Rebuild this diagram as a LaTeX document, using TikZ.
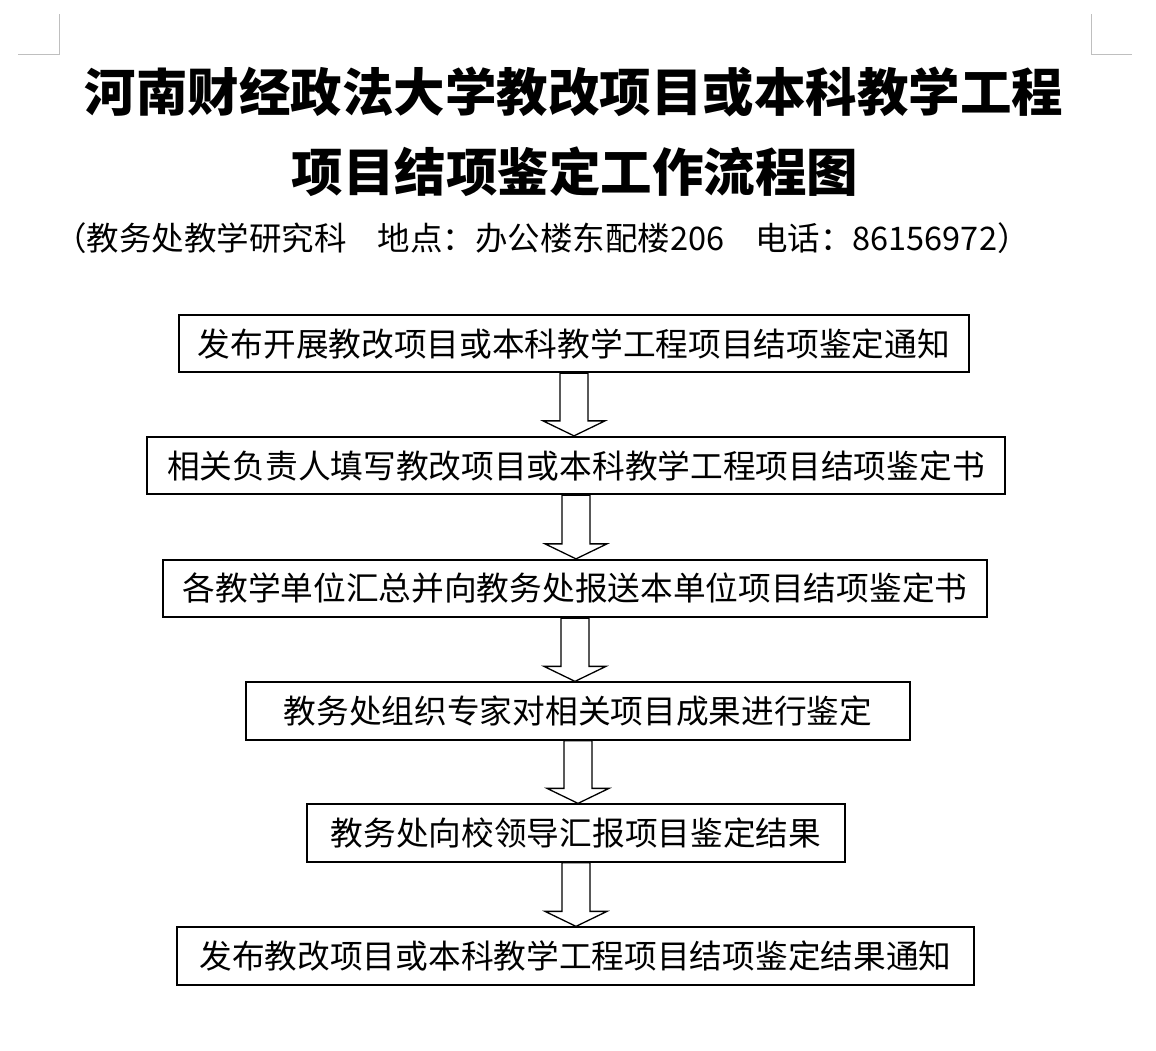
\documentclass[tikz,border=0pt]{standalone}
\usepackage{fontspec}
\newfontfamily\cjk{Noto Sans CJK SC}
\usetikzlibrary{calc}
\newcommand\blockarr[2]{%
  \draw[blockarrow] let \p1=(#1.south), \p2=(#2.north) in
    ({\x1-14pt},{\y1}) -- ({\x1+14pt},{\y1}) -- ({\x1+14pt},{\y2+15pt}) --
    ({\x1+31pt},{\y2+15pt}) -- ({\x1},{\y2}) -- ({\x1-31pt},{\y2+15pt}) --
    ({\x1-14pt},{\y2+15pt}) -- cycle;}
\begin{document}
\begin{tikzpicture}[x=1pt,y=-1pt,
  stepbox/.style={draw=black,line width=1.8pt,minimum height=57.5pt,inner sep=0pt,
    font=\cjk\fontsize{32.7}{36}\selectfont},
  titletext/.style={inner sep=0pt,font=\cjk\bfseries\fontsize{51.5}{60}\selectfont},
  subtext/.style={inner sep=0pt,font=\cjk\fontsize{32.5}{36}\selectfont},
  blockarrow/.style={draw=black,line width=1.3pt,fill=white,line join=miter},
  cornermark/.style={draw={rgb,255:red,191;green,191;blue,191},line width=1pt}]
\useasboundingbox (0,0) rectangle (1156,1050);
\draw[cornermark] (18,54) -- (59.5,54) -- (59.5,14);
\draw[cornermark] (1132,54) -- (1091,54) -- (1091,14);
\node[titletext] (t1) at (574,91.5) {河南财经政法大学教改项目或本科教学工程};
\node[titletext] (t2) at (575,171.5) {项目结项鉴定工作流程图};
\node[subtext] (sub) at (542,238) {（教务处教学研究科\hspace{0.95em}地点：办公楼东配楼206\hspace{0.95em}电话：86156972）};
\node[stepbox,minimum width=790pt] (b1) at (574,343.5) {发布开展教改项目或本科教学工程项目结项鉴定通知};
\node[stepbox,minimum width=858pt] (b2) at (576,465.5) {相关负责人填写教改项目或本科教学工程项目结项鉴定书};
\node[stepbox,minimum width=824pt] (b3) at (575,588.5) {各教学单位汇总并向教务处报送本单位项目结项鉴定书};
\node[stepbox,minimum width=664pt] (b4) at (578,711) {教务处组织专家对相关项目成果进行鉴定};
\node[stepbox,minimum width=538pt] (b5) at (576,833) {教务处向校领导汇报项目鉴定结果};
\node[stepbox,minimum width=797pt] (b6) at (575.5,956) {发布教改项目或本科教学工程项目结项鉴定结果通知};
\blockarr{b1}{b2}
\blockarr{b2}{b3}
\blockarr{b3}{b4}
\blockarr{b4}{b5}
\blockarr{b5}{b6}
\end{tikzpicture}
\end{document}
